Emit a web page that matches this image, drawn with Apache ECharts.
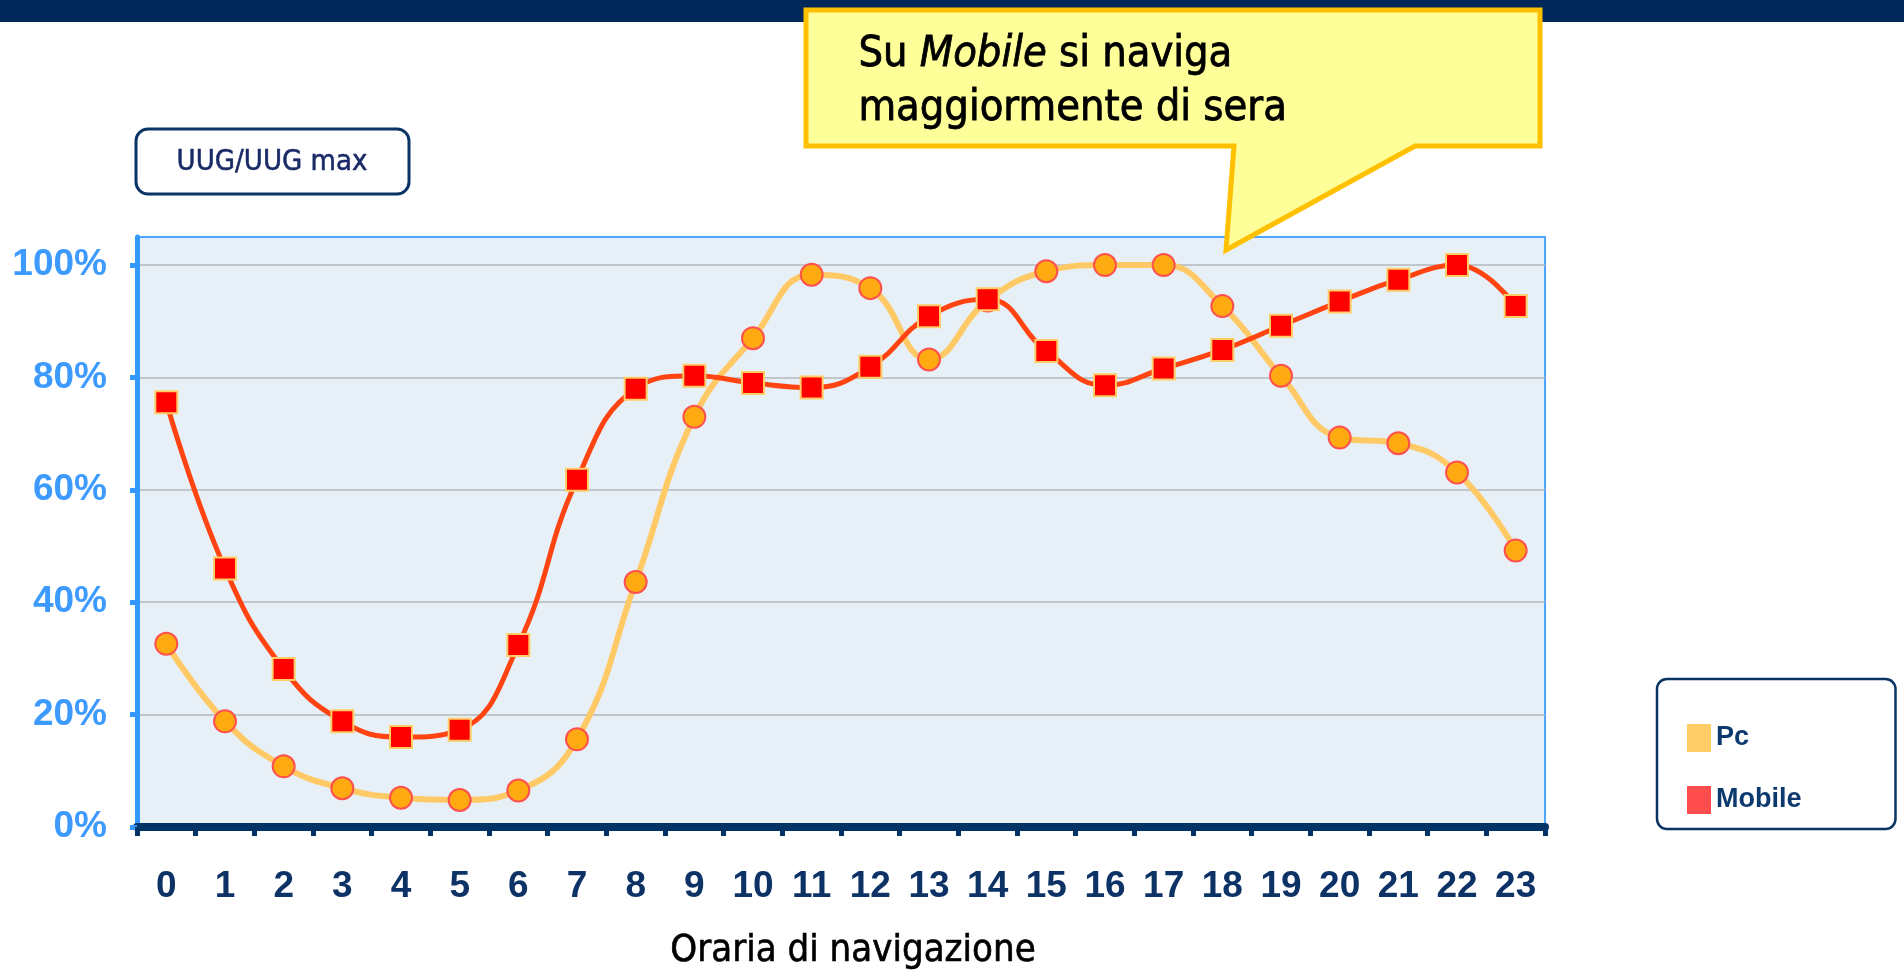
<!DOCTYPE html>
<html>
<head>
<meta charset="utf-8">
<script src="https://cdn.jsdelivr.net/npm/echarts@6/dist/echarts.min.js"></script>
<style>
    html, body { margin: 0; padding: 0; background: #fff; }
    #chart { width: 1904px; height: 972px; }
</style>
</head>
<body>
<div id="chart"></div>
<script>
var hours = ['0', '1', '2', '3', '4', '5', '6', '7', '8', '9', '10', '11',
    '12', '13', '14', '15', '16', '17', '18', '19', '20', '21', '22', '23'];
var pcValues = [32.6, 18.8, 10.8, 6.9, 5.2, 4.8, 6.5, 15.6, 43.6, 73.0, 87.0, 98.3,
    95.9, 83.2, 93.7, 98.9, 100, 100, 92.7, 80.3, 69.3, 68.3, 63.1, 49.2];
var mobileValues = [75.6, 46.0, 28.1, 18.8, 16.0, 17.3, 32.4, 61.8, 78.0, 80.3, 79.0, 78.2,
    81.9, 90.9, 93.9, 84.7, 78.6, 81.6, 84.9, 89.2, 93.5, 97.4, 100, 92.7];
var yTicks = [0, 20, 40, 60, 80, 100];

// condensed face for the free text (callout, box, axis title)
var condensed = 'DejaVu Sans Condensed, Liberation Sans, Arial';

var chart = echarts.init(document.getElementById('chart'));

var option = {
    backgroundColor: '#ffffff',
    animation: false,
    grid: {
        left: 137,
        right: 359,
        top: 237,
        bottom: 145,
        outerBoundsMode: 'none',
        show: true,
        backgroundColor: '#e8f0f7',
        borderColor: '#4da6ff',
        borderWidth: 2
    },
    legend: {
        orient: 'vertical',
        left: 1657,
        top: 679,
        padding: [45, 94, 15, 30],
        itemGap: 34,
        itemWidth: 24,
        itemHeight: 28,
        icon: 'rect',
        borderColor: '#0a3366',
        borderWidth: 2.5,
        borderRadius: 10,
        textStyle: {
            fontFamily: 'Liberation Sans, Arial',
            fontSize: 27,
            fontWeight: 'bold',
            color: '#0d3a6e'
        },
        data: [
            { name: 'Pc', itemStyle: { color: '#ffcc66', borderWidth: 0 } },
            { name: 'Mobile', itemStyle: { color: '#ff4d4d', borderWidth: 0 } }
        ]
    },
    xAxis: {
        type: 'category',
        data: hours,
        boundaryGap: true,
        name: 'Oraria di navigazione',
        nameLocation: 'middle',
        nameGap: 105,
        nameTextStyle: {
            fontFamily: condensed,
            fontSize: 38,
            color: '#000000',
            textBorderColor: '#000000',
            textBorderWidth: 0.6,
            padding: [0, 0, 0, 24]
        },
        axisLine: { lineStyle: { color: '#003366', width: 8 } },
        axisTick: { show: true, length: 9, lineStyle: { color: '#003366', width: 5 } },
        axisLabel: {
            margin: 41,
            fontFamily: 'Liberation Sans, Arial',
            fontSize: 37,
            fontWeight: 'bold',
            color: '#0d3366'
        },
        splitLine: { show: false }
    },
    yAxis: {
        type: 'value',
        min: 0,
        max: 105,
        interval: 20,
        axisLine: { show: true, lineStyle: { color: '#3399ff', width: 5 } },
        axisTick: {
            show: true,
            length: 7,
            customValues: yTicks,
            lineStyle: { color: '#3399ff', width: 5 }
        },
        axisLabel: {
            margin: 30,
            customValues: yTicks,
            fontFamily: 'Liberation Sans, Arial',
            fontSize: 37,
            fontWeight: 'bold',
            color: '#3d9bff',
            formatter: function (v) {
                return v > 100 ? '' : v + '%';
            }
        },
        splitLine: {
            show: true,
            lineStyle: {
                color: ['#b4b8bc', '#b4b8bc', '#b4b8bc', '#b4b8bc', '#b4b8bc', '#b4b8bc', 'rgba(0,0,0,0)'],
                width: 1.5
            }
        }
    },
    series: [
        {
            name: 'Pc',
            type: 'line',
            data: pcValues,
            smooth: 0.45,
            symbol: 'circle',
            symbolSize: 22,
            lineStyle: { color: '#ffc966', width: 6 },
            itemStyle: { color: '#ffaa11', borderColor: '#ff5050', borderWidth: 2 }
        },
        {
            name: 'Mobile',
            type: 'line',
            data: mobileValues,
            smooth: 0.45,
            symbol: 'rect',
            symbolSize: 22,
            lineStyle: { color: '#ff4411', width: 5 },
            itemStyle: { color: '#ff0000', borderColor: '#ffcc66', borderWidth: 2 }
        }
    ],
    graphic: [
        {
            type: 'rect',
            left: 0,
            top: 0,
            z: 10,
            shape: { width: 1904, height: 22 },
            style: { fill: '#02285a' }
        },
        {
            type: 'polygon',
            z: 20,
            shape: {
                points: [[806, 10], [1540, 10], [1540, 146], [1415, 146], [1226, 250], [1234, 146], [806, 146]]
            },
            style: { fill: '#ffff99', stroke: '#ffc000', lineWidth: 5, lineJoin: 'miter' }
        },
        {
            type: 'text',
            z: 21,
            left: 858,
            top: 33,
            style: {
                text: '{n|Su }{i|Mobile}{n| si naviga}\n{n|maggiormente di sera}',
                rich: {
                    n: {
                        fontFamily: condensed, fontSize: 43, lineHeight: 54,
                        fill: '#000000', stroke: '#000000', lineWidth: 0.8
                    },
                    i: {
                        fontFamily: condensed, fontSize: 43, lineHeight: 54, fontStyle: 'italic',
                        fill: '#000000', stroke: '#000000', lineWidth: 0.8
                    }
                }
            }
        },
        {
            type: 'rect',
            z: 10,
            shape: { x: 136, y: 129, width: 273, height: 65, r: 12 },
            style: { fill: '#ffffff', stroke: '#0a3366', lineWidth: 3 }
        },
        {
            type: 'text',
            z: 11,
            x: 272,
            y: 162,
            style: {
                text: 'UUG/UUG max',
                fontFamily: condensed,
                fontSize: 29,
                fill: '#1a2a66',
                stroke: '#1a2a66',
                lineWidth: 0.5,
                align: 'center',
                verticalAlign: 'middle'
            }
        }
    ]
};

chart.setOption(option);
</script>
</body>
</html>
